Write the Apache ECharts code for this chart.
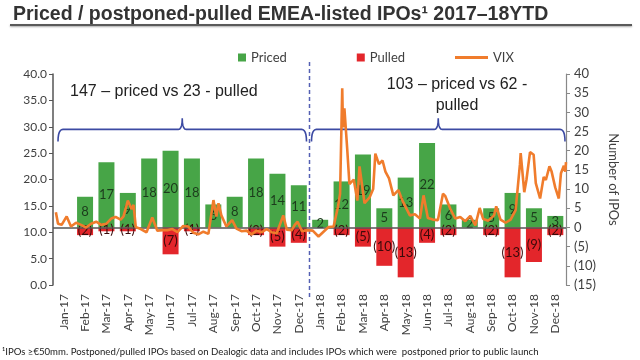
<!DOCTYPE html>
<html><head><meta charset="utf-8">
<script src="https://cdn.jsdelivr.net/npm/echarts@6/dist/echarts.min.js"></script>
<style>html,body{margin:0;padding:0;background:#fff}#c{width:640px;height:360px}</style>
</head><body><div id="c"></div>
<script>
const months = ['Jan-17','Feb-17','Mar-17','Apr-17','May-17','Jun-17','Jul-17','Aug-17','Sep-17','Oct-17','Nov-17','Dec-17',
                'Jan-18','Feb-18','Mar-18','Apr-18','May-18','Jun-18','Jul-18','Aug-18','Sep-18','Oct-18','Nov-18','Dec-18'];
const priced = [0,8,17,9,18,20,18,6,8,18,14,11, 2,12,19,5,13,22,6,2,5,9,5,3];
const pulled = [0,-2,-1,-1,0,-7,-1,0,0,-2,-5,-4, 0,-2,-5,-10,-13,-4,-2,0,-2,-13,-9,-2];
const vixDates = [
'2017-01-03','2017-01-06','2017-01-11','2017-01-18','2017-01-24','2017-01-31','2017-02-07','2017-02-14','2017-02-21','2017-02-28',
'2017-03-07','2017-03-14','2017-03-21','2017-03-27','2017-04-03','2017-04-07','2017-04-13','2017-04-18','2017-04-21','2017-04-24',
'2017-05-01','2017-05-09','2017-05-17','2017-05-24','2017-05-31','2017-06-07','2017-06-14','2017-06-21','2017-06-29','2017-07-06',
'2017-07-13','2017-07-20','2017-07-27','2017-08-03','2017-08-10','2017-08-14','2017-08-17','2017-08-21','2017-08-28','2017-09-05',
'2017-09-11','2017-09-18','2017-09-25','2017-10-02','2017-10-09','2017-10-16','2017-10-23','2017-10-30','2017-11-06','2017-11-15',
'2017-11-20','2017-11-27','2017-12-01','2017-12-05','2017-12-11','2017-12-18','2017-12-26',
'2018-01-03','2018-01-10','2018-01-17','2018-01-24','2018-01-30','2018-02-02','2018-02-05','2018-02-06','2018-02-08','2018-02-12',
'2018-02-15','2018-02-21','2018-02-26','2018-03-01','2018-03-08','2018-03-15','2018-03-20','2018-03-23','2018-03-28','2018-04-02',
'2018-04-06','2018-04-11','2018-04-17','2018-04-24','2018-04-30','2018-05-04','2018-05-10','2018-05-17','2018-05-24','2018-05-29',
'2018-06-04','2018-06-11','2018-06-18','2018-06-25','2018-06-28','2018-07-05','2018-07-12','2018-07-19','2018-07-26','2018-08-02',
'2018-08-09','2018-08-15','2018-08-20','2018-08-27','2018-09-04','2018-09-07','2018-09-13','2018-09-20','2018-09-27','2018-10-04',
'2018-10-10','2018-10-11','2018-10-16','2018-10-19','2018-10-24','2018-10-29','2018-11-01','2018-11-07','2018-11-12','2018-11-15',
'2018-11-20','2018-11-23','2018-11-28','2018-12-03','2018-12-06','2018-12-10','2018-12-12','2018-12-13'];
const vixValues = [
13.8,11.6,11.4,13.0,11.1,11.8,11.4,10.9,11.6,12.0,
11.4,11.6,12.6,12.9,12.4,13.0,16.0,14.4,15.2,11.0,
10.6,10.0,12.8,10.3,10.4,10.4,10.6,10.0,11.2,11.1,
9.9,9.6,10.1,9.7,16.1,13.0,15.5,13.2,11.1,12.3,
10.7,10.2,10.3,9.6,10.3,10.0,10.6,10.0,9.8,13.2,
10.5,10.4,11.4,12.0,10.2,10.4,10.3,
9.2,10.1,11.0,11.1,14.8,17.3,37.3,29.9,33.5,25.6,
19.1,20.0,16.0,22.5,15.5,16.6,18.2,24.9,22.9,23.6,
21.5,20.2,17.0,18.0,15.9,14.8,13.2,13.4,12.6,17.0,
12.7,12.4,12.3,17.3,16.9,14.5,12.6,12.9,12.1,13.1,
11.3,14.6,12.5,12.2,13.2,14.9,12.4,11.8,12.4,14.2,
22.9,25.0,17.6,19.9,25.2,24.7,19.3,16.4,20.5,19.9,
22.5,21.5,18.5,16.4,21.2,22.6,21.5,23.3];

const titleText = 'Priced / postponed-pulled EMEA-listed IPOs¹ 2017–18YTD';
const noteLeft = '147 – priced vs 23 - pulled';
const noteRight = '103 – priced vs 62 -\npulled';
const footnote = '¹IPOs ≥€50mm. Postponed/pulled IPOs based on Dealogic data and includes IPOs which were  postponed prior to public launch';

const chart = echarts.init(document.getElementById('c'), null, {renderer: 'canvas'});
const lblFont = 'Lato, "Open Sans", sans-serif';
chart.setOption({
  animation: false,
  backgroundColor: '#fff',
  title: {text: titleText, left: 8, top: 0,
    textStyle: {fontSize: 19.5, fontWeight: 'bold', fontFamily: '"Liberation Sans", Arial, sans-serif', color: '#333'}},
  legend: [
    {data: ['Priced', 'Pulled'], left: 238, top: 51, padding: 0, icon: 'rect', itemWidth: 8, itemHeight: 8, itemGap: 70,
     selectedMode: false, textStyle: {fontSize: 13, color: '#404040', fontFamily: lblFont}},
    {data: ['VIX'], left: 455, top: 51, padding: 0, icon: 'rect', itemWidth: 33, itemHeight: 3,
     selectedMode: false, textStyle: {fontSize: 13, color: '#404040', fontFamily: lblFont}}
  ],
  grid: {left: 53, right: 74, top: 74, bottom: 75, containLabel: false},
  xAxis: [
    {type: 'category', data: months, axisLine: {show: false}, axisTick: {show: false},
     axisLabel: {rotate: 90, interval: 0, fontSize: 12, color: '#404040', fontFamily: lblFont, margin: 9}},
    {type: 'time', min: '2016-12-30', max: '2018-12-13', show: false}
  ],
  yAxis: [
    {type: 'value', position: 'left', min: 0, max: 40, interval: 5,
     axisLine: {show: true, lineStyle: {color: '#555', width: 1.5}},
     axisTick: {show: true, length: 4, lineStyle: {color: '#555'}},
     splitLine: {show: false},
     axisLabel: {formatter: v => v.toFixed(1), fontSize: 12, color: '#404040', fontFamily: lblFont, margin: 6}},
    {type: 'value', position: 'right', min: -15, max: 40, interval: 5,
     axisLine: {show: true, lineStyle: {color: '#888', width: 1.2}},
     axisTick: {show: true, length: 4, lineStyle: {color: '#888'}},
     splitLine: {show: false},
     axisLabel: {formatter: v => v < 0 ? '(' + (-v) + ')' : String(v), fontSize: 13, color: '#404040', fontFamily: lblFont, margin: 8},
     name: 'Number of IPOs', nameLocation: 'middle', nameRotate: -90, nameGap: 39,
     nameTextStyle: {fontSize: 13, color: '#404040', fontFamily: lblFont}}
  ],
  series: [
    {name: 'Priced', type: 'bar', xAxisIndex: 0, yAxisIndex: 1, data: priced, barWidth: 16, barGap: '-100%',
     itemStyle: {color: '#47a547'},
     label: {show: true, position: 'inside', formatter: p => p.value ? String(p.value) : '',
             fontSize: 13, color: '#1c3b1c', fontFamily: lblFont},
     markLine: {silent: true, symbol: 'none', label: {show: false},
                lineStyle: {color: '#555', width: 1.5, type: 'solid'}, data: [{yAxis: 0}]}},
    {name: 'Pulled', type: 'bar', xAxisIndex: 0, yAxisIndex: 1, data: pulled, barWidth: 16, barGap: '-100%',
     itemStyle: {color: '#e3262b'},
     label: {show: true, position: 'inside', formatter: p => p.value ? '(' + (-p.value) + ')' : '',
             fontSize: 13, color: '#3a0a0a', fontFamily: lblFont}},
    {name: 'VIX', type: 'line', xAxisIndex: 1, yAxisIndex: 0, z: 5,
     data: vixDates.map((d, i) => [d, vixValues[i]]),
     showSymbol: false, symbol: 'none', itemStyle: {color: '#f07c2c'},
     lineStyle: {color: '#f07c2c', width: 2.6}}
  ]
});

// annotations positioned from the axes
const px = c => chart.convertToPixel({xAxisIndex: 0}, c);
const py = v => chart.convertToPixel({yAxisIndex: 0}, v);
const band = px(months[1]) - px(months[0]);
const gl = px(months[0]) - band / 2;
const gr = px(months[23]) + band / 2;
const xB = (px(months[11]) + px(months[12])) / 2;
const yH = py(29.5), yP = py(31.6), yE = py(27.2);

function quad(p0, p1, p2, n) {
  const pts = [];
  for (let i = 1; i <= n; i++) {
    const t = i / n;
    pts.push([(1-t)*(1-t)*p0[0] + 2*(1-t)*t*p1[0] + t*t*p2[0],
              (1-t)*(1-t)*p0[1] + 2*(1-t)*t*p1[1] + t*t*p2[1]]);
  }
  return pts;
}
function brace(x0, x1) {
  const xc = (x0 + x1) / 2;
  let pts = [[x0, yE]];
  pts = pts.concat(quad([x0, yE], [x0, yH], [x0 + 5, yH], 6));
  pts.push([xc - 4, yH]);
  pts = pts.concat(quad([xc - 4, yH], [xc, yH], [xc, yP], 5));
  pts = pts.concat(quad([xc, yP], [xc, yH], [xc + 4, yH], 5));
  pts.push([x1 - 5, yH]);
  pts = pts.concat(quad([x1 - 5, yH], [x1, yH], [x1, yE], 6));
  return {type: 'polyline', silent: true, shape: {points: pts},
          style: {stroke: '#3c4aa3', lineWidth: 1.6, fill: null}};
}

chart.setOption({
  graphic: [
    {type: 'line', silent: true, shape: {x1: 10, y1: 25, x2: 632, y2: 25},
     style: {stroke: '#5a5a5a', lineWidth: 2.2, shadowBlur: 2, shadowColor: 'rgba(0,0,0,0.35)', shadowOffsetY: 1}},
    {type: 'line', silent: true, shape: {x1: xB, y1: 62, x2: xB, y2: 300},
     style: {stroke: '#5560b3', lineWidth: 1.5, lineDash: [4, 3]}},
    brace(gl + 5, xB - 3),
    brace(xB + 2, gr - 1),
    {type: 'text', silent: true, x: 70, y: 84,
     style: {text: noteLeft, font: '16px "Liberation Sans", Arial, sans-serif', fill: '#222'}},
    {type: 'text', silent: true, x: 457, y: 74,
     style: {text: noteRight, font: '16px "Liberation Sans", Arial, sans-serif', fill: '#222', textAlign: 'center', lineHeight: 21}},
    {type: 'text', silent: true, x: 2, y: 347,
     style: {text: footnote, font: '9.6px Lato, sans-serif', fill: '#222'}}
  ]
});
</script></body></html>
